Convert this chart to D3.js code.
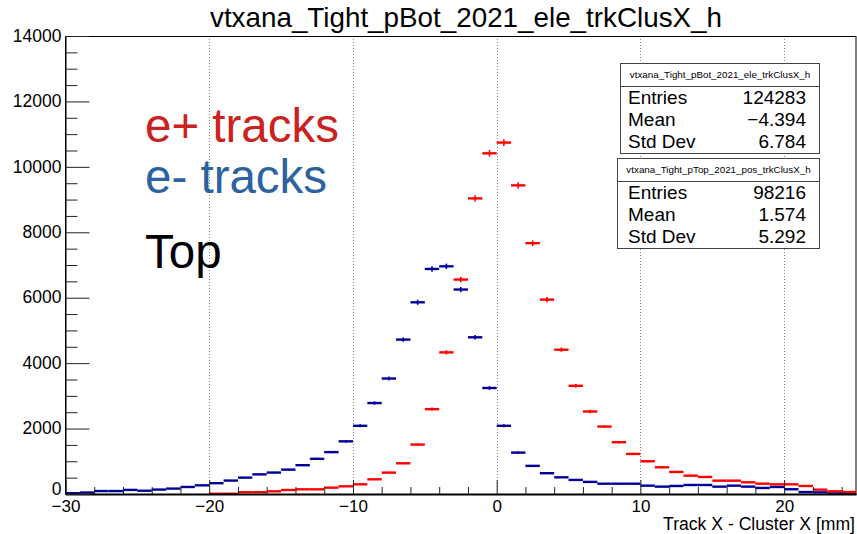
<!DOCTYPE html>
<html>
<head>
<meta charset="utf-8">
<script src="https://cdn.jsdelivr.net/npm/d3@7"></script>
<style>
  body { margin: 0; background: #fff; }
  svg { display: block; font-family: "Liberation Sans", Arial, sans-serif; }
</style>
</head>
<body>
<svg id="chart" width="857" height="534"></svg>
<script>
// bins: 1 mm wide, low edges from -30 to 24
var binLow = d3.range(-30, 25);

// vtxana_Tight_pBot_2021_ele_trkClusX_h (blue, e-)
var eleCounts = [
  25, 45, 90, 90, 125, 100, 135, 165, 215, 265,
  330, 410, 500, 600, 655, 745, 880, 1075, 1280, 1610,
  2085, 2780, 3530, 4720, 5860, 6880, 6960, 6250, 4790, 3240,
  2085, 1265, 860, 635, 510, 430, 370, 315, 315, 315,
  255, 225, 245, 275, 275, 225, 255, 225, 185, 215, 145, 60, 50, 20, 20
];

// vtxana_Tight_pTop_2021_pos_trkClusX_h (red, e+)
var posCounts = [
  0, 0, 0, 0, 0, 0, 0, 0, 0, 0,
  8, 8, 55, 55, 82, 122, 143, 143, 194, 235,
  296, 449, 654, 939, 1511, 2594, 4329, 6555, 9036, 10414,
  10742, 9434, 7667, 5942, 4411, 3308, 2522, 2062, 1583, 1225,
  1001, 817, 674, 561, 521, 408, 408, 357, 316, 296, 296, 245, 133, 82, 61
];

var xMajorTicks = [-30, -20, -10, 0, 10, 20];
var yMajorTicks = [0, 2000, 4000, 6000, 8000, 10000, 12000, 14000];

var statBoxes = [
  { title: "vtxana_Tight_pBot_2021_ele_trkClusX_h", rows: [["Entries", "124283"], ["Mean", "\u22124.394"], ["Std Dev", "6.784"]] },
  { title: "vtxana_Tight_pTop_2021_pos_trkClusX_h", rows: [["Entries", "98216"], ["Mean", "1.574"], ["Std Dev", "5.292"]] }
];

var legendLines = [
  { text: "e+ tracks", color: "#cc2121" },
  { text: "e- tracks", color: "#2c62a0" },
  { text: "Top", color: "#000000" }
];

(function() {
  var svg = d3.select("#chart");

  var frame = { left: 65.5, right: 856, top: 36, bottom: 494 };

  var x = d3.scaleLinear().domain([-30, 25]).range([frame.left, frame.right]);
  var y = d3.scaleLinear().domain([0, 14000]).range([frame.bottom, frame.top]);

  // background
  svg.append("rect").attr("width", 857).attr("height", 534).attr("fill", "#fff");

  // vertical grid
  svg.append("g").classed("grid", true).selectAll("line")
    .data(xMajorTicks.filter(function(d) { return d > -30; })).enter()
    .append("line")
    .attr("x1", function(d) { return Math.round(x(d)) + 0.5; })
    .attr("x2", function(d) { return Math.round(x(d)) + 0.5; })
    .attr("y1", frame.top)
    .attr("y2", frame.bottom)
    .attr("stroke", "#8a8a8a")
    .attr("stroke-width", 1)
    .attr("stroke-dasharray", "1,2");

  // frame
  svg.append("rect")
    .attr("x", frame.left).attr("y", frame.top + 0.5)
    .attr("width", frame.right - frame.left)
    .attr("height", frame.bottom - frame.top)
    .attr("fill", "none")
    .attr("stroke", "#000")
    .attr("stroke-width", 1);

  // histograms: horizontal bin bars + sqrt(N) error bars
  var drawHist = function(counts, color, cls) {
    var data = counts.map(function(c, i) { return { lo: binLow[i], v: c }; })
      .filter(function(d) { return d.v > 0; });
    var g = svg.append("g").classed(cls, true)
      .attr("stroke", color).attr("stroke-width", 2.4).attr("fill", "none");
    g.selectAll("line.bar").data(data).enter()
      .append("line").classed("bar", true)
      .attr("x1", function(d) { return x(d.lo); })
      .attr("x2", function(d) { return x(d.lo + 1); })
      .attr("y1", function(d) { return y(d.v); })
      .attr("y2", function(d) { return y(d.v); });
    g.selectAll("line.err").data(data).enter()
      .append("line").classed("err", true)
      .attr("stroke-width", 1.6)
      .attr("x1", function(d) { return x(d.lo + 0.5); })
      .attr("x2", function(d) { return x(d.lo + 0.5); })
      .attr("y1", function(d) { return y(d.v - Math.sqrt(d.v)); })
      .attr("y2", function(d) { return y(d.v + Math.sqrt(d.v)); });
  };
  drawHist(eleCounts, "#000099", "ele");
  drawHist(posCounts, "#ff0000", "pos");

  // x axis
  var xAxis = d3.axisBottom(x)
    .tickValues(d3.range(-30, 26, 2))
    .tickSizeInner(0).tickSizeOuter(0)
    .tickFormat("");
  var gx = svg.append("g").attr("transform", "translate(0," + frame.bottom + ")").call(xAxis);
  gx.select(".domain").attr("stroke", "#000").attr("stroke-width", 2);
  gx.selectAll(".tick line")
    .attr("y2", function(d) { return xMajorTicks.indexOf(d) >= 0 ? -14 : -7; })
    .attr("stroke", "#222");
  gx.selectAll(".tick").filter(function(d) { return xMajorTicks.indexOf(d) >= 0; })
    .append("text")
    .attr("y", 18)
    .attr("fill", "#000")
    .attr("font-size", 17)
    .attr("text-anchor", "middle")
    .text(function(d) { return d3.format("d")(d); });

  svg.append("text")
    .attr("x", 855).attr("y", 530)
    .attr("text-anchor", "end")
    .attr("font-size", 17.6)
    .text("Track X - Cluster X [mm]");

  // y axis
  var yAxis = d3.axisLeft(y)
    .tickValues(d3.range(0, 14001, 500))
    .tickSizeInner(0).tickSizeOuter(0)
    .tickFormat("");
  var gy = svg.append("g").attr("transform", "translate(" + frame.left + ",0)").call(yAxis);
  gy.select(".domain").attr("stroke", "#000");
  gy.selectAll(".tick line")
    .attr("x2", function(d) { return yMajorTicks.indexOf(d) >= 0 ? 24 : 12; })
    .attr("stroke", "#222");
  gy.selectAll(".tick").filter(function(d) { return yMajorTicks.indexOf(d) >= 0; })
    .append("text")
    .attr("x", -4)
    .attr("dy", function(d) { return d === 0 ? "0.05em" : "0.3em"; })
    .attr("fill", "#000")
    .attr("font-size", 17.5)
    .attr("text-anchor", "end")
    .text(function(d) { return d; });

  // title
  svg.append("text")
    .attr("x", 466).attr("y", 27)
    .attr("text-anchor", "middle")
    .attr("font-size", 27.8)
    .text("vtxana_Tight_pBot_2021_ele_trkClusX_h");

  // legend-like labels
  svg.append("g").selectAll("text").data(legendLines).enter()
    .append("text")
    .attr("x", 145)
    .attr("y", function(d, i) { return [142, 193, 268][i]; })
    .attr("font-size", 47.5)
    .attr("fill", function(d) { return d.color; })
    .text(function(d) { return d.text; });

  // stats boxes
  var boxes = [
    { x: 620, y: 63, w: 199 },
    { x: 617, y: 158, w: 202 }
  ];
  statBoxes.forEach(function(s, k) {
    var b = boxes[k];
    var g = svg.append("g").attr("transform", "translate(" + b.x + "," + b.y + ")");
    g.append("rect")
      .attr("x", 0.5).attr("y", 0.5).attr("width", b.w).attr("height", 90)
      .attr("fill", "#fff").attr("stroke", "#444");
    g.append("line")
      .attr("x1", 0.5).attr("x2", b.w + 0.5).attr("y1", 23.5).attr("y2", 23.5)
      .attr("stroke", "#444");
    g.append("text")
      .attr("x", b.w / 2 + 0.5).attr("y", 15)
      .attr("text-anchor", "middle")
      .attr("font-size", 9.8)
      .text(s.title);
    s.rows.forEach(function(r, i) {
      g.append("text").attr("x", 628 - b.x).attr("y", 41 + i * 22)
        .attr("font-size", 19).text(r[0]);
      g.append("text").attr("x", 806 - b.x).attr("y", 41 + i * 22)
        .attr("font-size", 19).attr("text-anchor", "end").text(r[1]);
    });
  });
}());
</script>
</body>
</html>
